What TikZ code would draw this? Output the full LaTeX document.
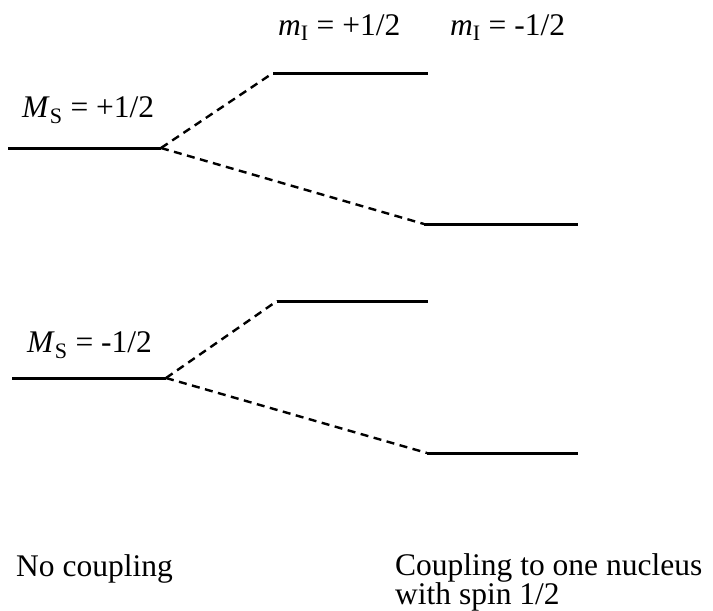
\documentclass[tikz,border=0pt]{standalone}
\usepackage{fontspec}
\setmainfont{Liberation Serif}
\begin{document}
\begin{tikzpicture}[x=1pt,y=-1pt,
  level/.style={line width=3pt},
  split/.style={line width=2.4pt,dash pattern=on 8pt off 5.5pt},
  lbl/.style={inner sep=0pt,anchor=base west,font=\fontsize{31.5}{34}\selectfont}]
\useasboundingbox (0,0) rectangle (713,611);
% upper multiplet
\coordinate (a1) at (8,148);
\coordinate (a2) at (161,148);
\coordinate (b1) at (273,73);
\coordinate (b2) at (428,73);
\coordinate (c1) at (424,224);
\coordinate (c2) at (578,224);
% lower multiplet
\coordinate (d1) at (12,378);
\coordinate (d2) at (166,378);
\coordinate (e1) at (277,301);
\coordinate (e2) at (428,301);
\coordinate (f1) at (427,453);
\coordinate (f2) at (578,453);
\draw[level] (a1) -- (a2);
\draw[level] (b1) -- (b2);
\draw[level] (c1) -- (c2);
\draw[level] (d1) -- (d2);
\draw[level] (e1) -- (e2);
\draw[level] (f1) -- (f2);
\draw[split] (a2) -- (b1);
\draw[split] (a2) -- (c1);
\draw[split] (d2) -- (e1);
\draw[split] (d2) -- (f1);
% labels
\node[lbl] (mp) at (278,35) {\textit{m}\textsubscript{I} = +1/2};
\node[lbl] (mm) at (450,35) {\textit{m}\textsubscript{I} = -1/2};
\node[lbl] (sp) at (22,117) {\textit{M}\textsubscript{S} = +1/2};
\node[lbl] (sm) at (27,352) {\textit{M}\textsubscript{S} = -1/2};
\node[lbl] (nc) at (16,576) {No coupling};
\node[lbl] (cp) at (395,575) {\vtop{\baselineskip=29pt\lineskiplimit=-100pt
  \hbox{Coupling to one nucleus}\hbox{with spin 1/2}}};
\end{tikzpicture}
\end{document}
